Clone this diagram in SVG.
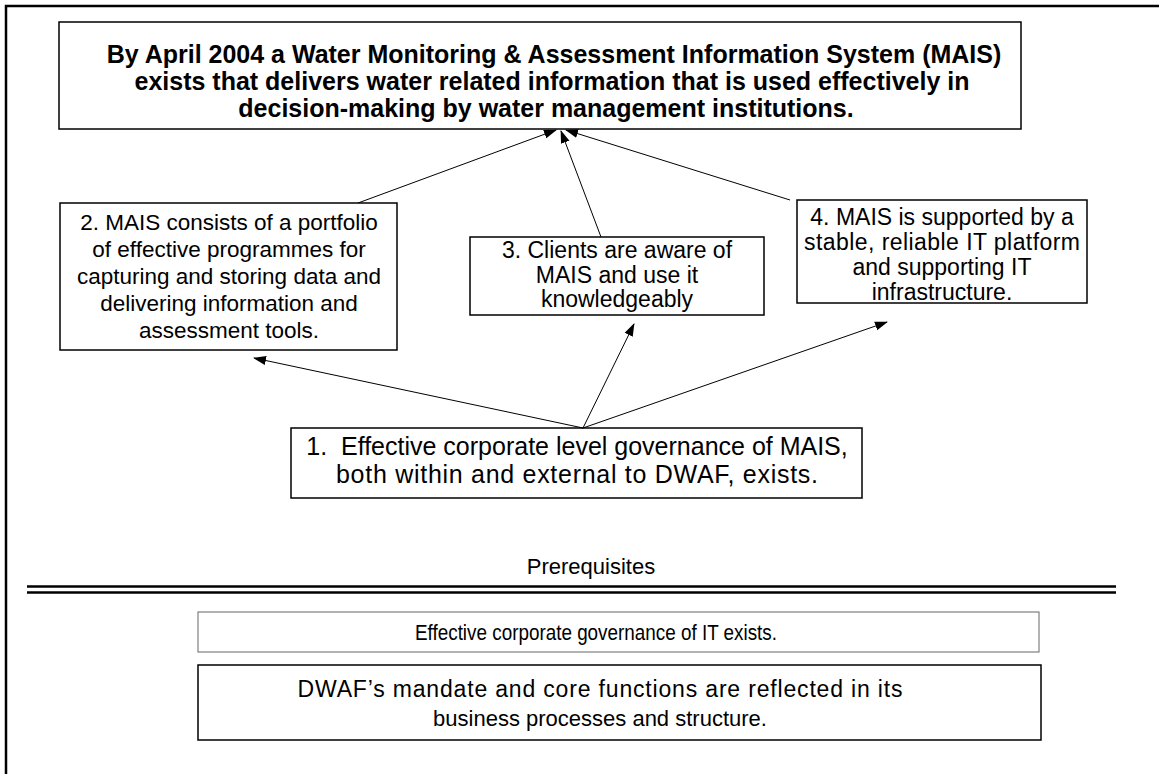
<svg xmlns="http://www.w3.org/2000/svg" width="1159" height="774" viewBox="0 0 1159 774">
<style>
.box{fill:#fff;stroke:#000;stroke-width:1.5}
.t{font-family:"Liberation Sans",Arial,sans-serif;fill:#000;text-anchor:middle}
.b{font-weight:bold;font-size:25px}
.n2{font-size:22.5px}
.n3{font-size:23px}
.n1{font-size:25px}
.g{font-family:"Liberation Sans",Arial,sans-serif;fill:#000;text-anchor:middle}
.c{stroke:#000;stroke-width:1;fill:none;marker-end:url(#ah)}
</style>
<defs>
<marker id="ah" markerWidth="13" markerHeight="10" refX="12" refY="5" orient="auto" markerUnits="userSpaceOnUse">
<path d="M0,0.5 L13,5 L0,9.5 Z" fill="#000"/>
</marker>
</defs>
<rect x="0" y="0" width="1159" height="774" fill="#fff"/>
<g id="frame">
<path d="M6,774 V6 H1159" fill="none" stroke="#000" stroke-width="2.5"/>
</g>
<g id="goal">
<rect class="box" x="59" y="22" width="962" height="107"/>
<text class="t b" x="554" y="63">By April 2004 a Water Monitoring &amp; Assessment Information System (MAIS)</text>
<text class="t b" x="552" y="90">exists that delivers water related information that is used effectively in</text>
<text class="t b" x="546" y="117">decision-making by water management institutions.</text>
</g>
<g id="node2">
<rect class="box" x="60" y="203" width="337" height="147"/>
<text class="t n2" x="229" y="230">2. MAIS consists of a portfolio</text>
<text class="t n2" x="229" y="257">of effective programmes for</text>
<text class="t n2" x="229" y="284">capturing and storing data and</text>
<text class="t n2" x="229" y="311">delivering information and</text>
<text class="t n2" x="229" y="338">assessment tools.</text>
</g>
<g id="node3">
<rect class="box" x="470" y="237" width="294" height="78"/>
<text class="t n3" x="617" y="258">3. Clients are aware of</text>
<text class="t n3" x="617" y="283">MAIS and use it</text>
<text class="t n3" x="617" y="307">knowledgeably</text>
</g>
<g id="node4">
<rect class="box" x="797" y="200" width="290" height="103"/>
<text class="t n3" x="942" y="225">4. MAIS is supported by a</text>
<text class="t n3" x="942" y="250" textLength="276">stable, reliable IT platform</text>
<text class="t n3" x="942" y="275">and supporting IT</text>
<text class="t n3" x="942" y="300">infrastructure.</text>
</g>
<g id="node1">
<rect class="box" x="291" y="428" width="571" height="70"/>
<text class="t n1" x="577" y="455">1.&#160; Effective corporate level governance of MAIS,</text>
<text class="t n1" x="577" y="483" textLength="482">both within and external to DWAF, exists.</text>
</g>
<g id="connectors">
<line class="c" x1="358" y1="203" x2="556" y2="130"/>
<line class="c" x1="601" y1="237" x2="561" y2="131"/>
<line class="c" x1="790" y1="200" x2="566" y2="130"/>
<line class="c" x1="583" y1="428" x2="254" y2="358"/>
<line class="c" x1="583" y1="428" x2="634" y2="324"/>
<line class="c" x1="583" y1="428" x2="887" y2="322"/>
</g>
<g id="prereq">
<text class="g" x="591" y="574" font-size="22">Prerequisites</text>
<line x1="27" y1="586.5" x2="1116" y2="586.5" stroke="#000" stroke-width="2.5"/>
<line x1="27" y1="592.5" x2="1116" y2="592.5" stroke="#000" stroke-width="2.5"/>
</g>
<g id="pre1">
<rect x="198" y="612" width="841" height="40" fill="#fff" stroke="#666" stroke-width="1"/>
<text class="g" x="596" y="640" font-size="22" textLength="362" lengthAdjust="spacingAndGlyphs">Effective corporate governance of IT exists.</text>
</g>
<g id="pre2">
<rect class="box" x="198" y="665" width="843" height="75"/>
<text class="g" x="600" y="697" font-size="23" textLength="605">DWAF’s mandate and core functions are reflected in its</text>
<text class="g" x="600" y="726" font-size="22">business processes and structure.</text>
</g>
</svg>
